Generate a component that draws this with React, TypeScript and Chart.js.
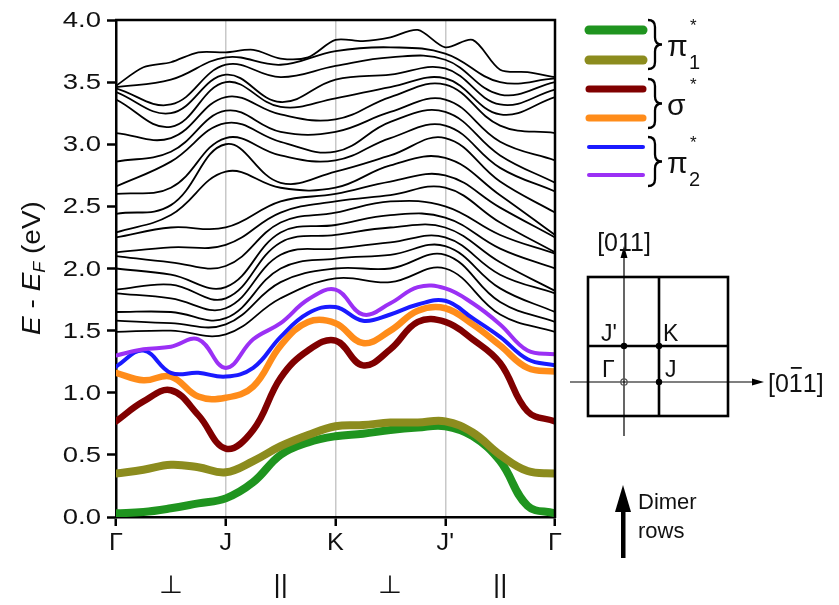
import React, { useEffect, useRef } from 'react';
import { Chart, registerables } from 'chart.js';
Chart.register(...registerables);

const FONT = 'Liberation Sans, Arial, sans-serif';

// k-path: Γ(0) J(1) K(2) J'(3) Γ(4)
const K_FINE = [0, 0.25, 0.5, 0.75, 1, 1.25, 1.5, 1.75, 2, 2.25, 2.5, 2.75, 3, 3.25, 3.5, 3.75, 4];
const K_COARSE = [0, 0.5, 1, 1.5, 2, 2.5, 3, 3.5, 4];
const K_LABELS = ['Γ', 'J', 'K', "J'", 'Γ'];
const SEGMENT_LABELS = ['⊥', '||', '⊥', '||'];
const Y_TICKS = [0, 0.5, 1, 1.5, 2, 2.5, 3, 3.5, 4];

// coloured bands (eV) on K_FINE
const PI1_LOW = [0.03, 0.04, 0.07, 0.11, 0.15, 0.28, 0.5, 0.6, 0.65, 0.67, 0.7, 0.72, 0.73, 0.65, 0.45, 0.09, 0.03];
const PI1_HIGH = [0.35, 0.38, 0.42, 0.4, 0.36, 0.45, 0.57, 0.66, 0.73, 0.74, 0.76, 0.76, 0.77, 0.68, 0.5, 0.37, 0.35];
const SIGMA_LOW = [0.77, 0.93, 1.02, 0.82, 0.55, 0.7, 1.12, 1.34, 1.42, 1.22, 1.35, 1.57, 1.57, 1.43, 1.24, 0.85, 0.77];
const SIGMA_HIGH = [1.16, 1.1, 1.13, 0.97, 0.96, 1.05, 1.38, 1.57, 1.56, 1.4, 1.5, 1.66, 1.68, 1.55, 1.38, 1.2, 1.17];
const PI2_LOW = [1.21, 1.34, 1.16, 1.16, 1.13, 1.2, 1.45, 1.64, 1.69, 1.58, 1.63, 1.71, 1.74, 1.6, 1.45, 1.27, 1.22];
const PI2_HIGH = [1.3, 1.35, 1.37, 1.43, 1.2, 1.43, 1.56, 1.75, 1.83, 1.63, 1.72, 1.85, 1.84, 1.72, 1.55, 1.34, 1.31];

// uppermost black band on K_FINE
const TOP_BAND = [3.47, 3.62, 3.66, 3.74, 3.74, 3.76, 3.69, 3.7, 3.84, 3.83, 3.86, 3.92, 3.78, 3.84, 3.6, 3.58, 3.54];

// other black bands: energies at each K_COARSE point (sorted, band index = position)
const BLACK_K00 = [1.49, 1.58, 1.65, 1.8, 1.83, 2.0, 2.1, 2.13, 2.25, 2.29, 2.44, 2.6, 2.66, 2.86, 3.09, 3.36, 3.42, 3.45, 3.46];
const BLACK_K05 = [1.5, 1.56, 1.65, 1.76, 1.87, 1.95, 2.05, 2.17, 2.33, 2.43, 2.51, 2.65, 2.86, 2.94, 3.05, 3.14, 3.25, 3.32, 3.52];
const BLACK_K10 = [1.47, 1.55, 1.6, 1.68, 1.76, 1.85, 2.02, 2.19, 2.33, 2.78, 3.0, 3.05, 3.17, 3.27, 3.38, 3.5, 3.56, 3.64, 3.7];
const BLACK_K15 = [1.76, 1.89, 2.0, 2.11, 2.21, 2.29, 2.37, 2.45, 2.54, 2.65, 2.69, 2.91, 3.02, 3.1, 3.24, 3.3, 3.34, 3.54, 3.64];
const BLACK_K20 = [1.92, 2.0, 2.08, 2.16, 2.27, 2.35, 2.45, 2.54, 2.6, 2.65, 2.78, 2.87, 2.94, 3.1, 3.2, 3.37, 3.52, 3.63, 3.75];
const BLACK_K25 = [1.89, 2.0, 2.11, 2.21, 2.33, 2.43, 2.54, 2.59, 2.7, 2.83, 2.91, 3.05, 3.18, 3.26, 3.38, 3.46, 3.56, 3.7, 3.78];
const BLACK_K30 = [2.0, 2.11, 2.18, 2.25, 2.33, 2.41, 2.5, 2.65, 2.75, 2.89, 3.05, 3.15, 3.26, 3.36, 3.48, 3.53, 3.61, 3.68, 3.73];
const BLACK_K35 = [1.63, 1.73, 1.84, 1.95, 2.05, 2.16, 2.27, 2.37, 2.49, 2.59, 2.7, 2.81, 2.91, 3.02, 3.15, 3.24, 3.32, 3.4, 3.5];
const BLACK_K40 = [1.49, 1.57, 1.65, 1.8, 1.82, 2.0, 2.12, 2.13, 2.25, 2.27, 2.45, 2.62, 2.69, 2.87, 3.09, 3.38, 3.44, 3.5, 3.53];

const BLACK_COLUMNS = [BLACK_K00, BLACK_K05, BLACK_K10, BLACK_K15, BLACK_K20, BLACK_K25, BLACK_K30, BLACK_K35, BLACK_K40];

const COLORED = [
  { data: PI2_HIGH, color: '#9b30f5', width: 4 },
  { data: PI2_LOW, color: '#1a1aff', width: 4 },
  { data: SIGMA_HIGH, color: '#ff8c1a', width: 6.5 },
  { data: SIGMA_LOW, color: '#800000', width: 6.5 },
  { data: PI1_HIGH, color: '#8c8c1e', width: 8 },
  { data: PI1_LOW, color: '#1f941f', width: 8 },
];

function drawText(ctx: CanvasRenderingContext2D, t: string, x: number, y: number, font: string, align: CanvasTextAlign = 'left', base: CanvasTextBaseline = 'alphabetic', sx = 1) {
  ctx.save();
  ctx.translate(x, y);
  ctx.scale(sx, 1);
  ctx.font = font;
  ctx.textAlign = align;
  ctx.textBaseline = base;
  ctx.fillText(t, 0, 0);
  ctx.restore();
}

function brace(ctx: CanvasRenderingContext2D, x: number, y1: number, y2: number, w: number) {
  const m = (y1 + y2) / 2;
  const h = w / 2;
  ctx.beginPath();
  ctx.moveTo(x, y1);
  ctx.quadraticCurveTo(x + h, y1, x + h, y1 + h);
  ctx.lineTo(x + h, m - h);
  ctx.quadraticCurveTo(x + h, m, x + w, m);
  ctx.quadraticCurveTo(x + h, m, x + h, m + h);
  ctx.lineTo(x + h, y2 - h);
  ctx.quadraticCurveTo(x + h, y2, x, y2);
  ctx.stroke();
}

const decorPlugin = {
  id: 'decor',
  afterDraw(chart: any) {
    const ctx: CanvasRenderingContext2D = chart.ctx;
    const { left, right, top, bottom } = chart.chartArea;
    const xs = chart.scales.x;
    const ys = chart.scales.y;
    ctx.save();
    ctx.fillStyle = '#111';
    ctx.strokeStyle = '#000';
    // frame top & right
    ctx.lineWidth = 2.5;
    ctx.beginPath();
    ctx.moveTo(left - 1, top);
    ctx.lineTo(right, top);
    ctx.lineTo(right, bottom + 1);
    ctx.stroke();

    // y tick labels
    Y_TICKS.forEach((v) => {
      drawText(ctx, v.toFixed(1), left - 15, ys.getPixelForValue(v) + 1, `22px ${FONT}`, 'right', 'middle', 1.25);
    });
    // x tick labels
    K_LABELS.forEach((l, i) => {
      drawText(ctx, l, xs.getPixelForValue(i), bottom + 33, `24px ${FONT}`, 'center', 'alphabetic', 1.05);
    });
    // segment labels
    SEGMENT_LABELS.forEach((l, i) => {
      drawText(ctx, l, xs.getPixelForValue(i + 0.5), bottom + 76, `25px ${FONT}`, 'center', 'alphabetic', 1.1);
    });

    // y axis title: E - E_F (eV)
    ctx.save();
    ctx.translate(40, 268);
    ctx.rotate(-Math.PI / 2);
    ctx.scale(1.12, 1);
    ctx.textBaseline = 'alphabetic';
    ctx.textAlign = 'left';
    const parts: [string, string, number][] = [
      ['E', `italic 25px ${FONT}`, 0],
      [' - ', `25px ${FONT}`, 0],
      ['E', `italic 25px ${FONT}`, 0],
      ['F', `italic 16px ${FONT}`, 5],
      [' (eV)', `25px ${FONT}`, 0],
    ];
    let total = 0;
    parts.forEach(([t, f]) => { ctx.font = f; total += ctx.measureText(t).width; });
    let cx = -total / 2;
    parts.forEach(([t, f, dy]) => {
      ctx.font = f;
      ctx.fillText(t, cx, dy);
      cx += ctx.measureText(t).width;
    });
    ctx.restore();

    // legend
    ctx.lineCap = 'round';
    const legend = [
      { c: '#1f941f', w: 9, y: 30 },
      { c: '#8c8c1e', w: 9, y: 60 },
      { c: '#800000', w: 7, y: 89 },
      { c: '#ff8c1a', w: 7, y: 118 },
      { c: '#1a1aff', w: 4, y: 147 },
      { c: '#9b30f5', w: 4, y: 175 },
    ];
    legend.forEach((l) => {
      ctx.strokeStyle = l.c;
      ctx.lineWidth = l.w;
      ctx.beginPath();
      ctx.moveTo(589, l.y);
      ctx.lineTo(643, l.y);
      ctx.stroke();
    });
    ctx.lineCap = 'butt';
    ctx.strokeStyle = '#000';
    ctx.lineWidth = 2.3;
    const groups = [
      { y1: 20, y2: 69, sym: 'π', sub: '1' },
      { y1: 79, y2: 128, sym: 'σ', sub: '' },
      { y1: 137, y2: 186, sym: 'π', sub: '2' },
    ];
    groups.forEach((g) => {
      brace(ctx, 648, g.y1, g.y2, 14);
      const m = (g.y1 + g.y2) / 2;
      drawText(ctx, g.sym, 667, m + 11, `30px ${FONT}`, 'left', 'alphabetic');
      if (g.sub) drawText(ctx, g.sub, 689, m + 24, `20px ${FONT}`, 'left', 'alphabetic');
      drawText(ctx, '*', 690, m - 14, `17px ${FONT}`, 'left', 'alphabetic');
    });

    // Brillouin-zone sketch
    ctx.strokeStyle = '#000';
    ctx.fillStyle = '#000';
    ctx.lineWidth = 1.2;
    ctx.beginPath();
    ctx.moveTo(624, 436);
    ctx.lineTo(624, 252);
    ctx.moveTo(570, 382);
    ctx.lineTo(756, 382);
    ctx.stroke();
    ctx.beginPath();
    ctx.moveTo(624, 246);
    ctx.lineTo(620.5, 258);
    ctx.lineTo(627.5, 258);
    ctx.closePath();
    ctx.fill();
    ctx.beginPath();
    ctx.moveTo(764, 382);
    ctx.lineTo(752, 378.5);
    ctx.lineTo(752, 385.5);
    ctx.closePath();
    ctx.fill();

    ctx.lineWidth = 2.6;
    ctx.strokeRect(588, 277, 140, 139);
    ctx.beginPath();
    ctx.moveTo(659, 277);
    ctx.lineTo(659, 416);
    ctx.moveTo(588, 346);
    ctx.lineTo(728, 346);
    ctx.stroke();

    [[624, 346], [659, 346], [659, 382]].forEach(([x, y]) => {
      ctx.beginPath();
      ctx.arc(x, y, 3.2, 0, Math.PI * 2);
      ctx.fill();
    });
    ctx.lineWidth = 1.3;
    ctx.strokeStyle = '#555';
    ctx.beginPath();
    ctx.arc(624, 382, 3.2, 0, Math.PI * 2);
    ctx.stroke();

    ctx.fillStyle = '#111';
    drawText(ctx, "J'", 601, 341, `23px ${FONT}`);
    drawText(ctx, 'K', 663, 341, `23px ${FONT}`);
    drawText(ctx, 'Γ', 602, 377, `23px ${FONT}`);
    drawText(ctx, 'J', 665, 377, `23px ${FONT}`);
    drawText(ctx, '[011]', 624, 251, `25px ${FONT}`, 'center');
    // [0 1̄ 1]
    ctx.save();
    ctx.translate(768, 392);
    ctx.font = `25px ${FONT}`;
    ctx.textAlign = 'left';
    ctx.textBaseline = 'alphabetic';
    const p1 = '[0';
    const p2 = '1';
    const p3 = '1]';
    let bx = 0;
    ctx.fillText(p1, bx, 0);
    bx += ctx.measureText(p1).width;
    const w1 = ctx.measureText(p2).width;
    ctx.fillText(p2, bx, 0);
    ctx.fillRect(bx + 2, -25, w1 - 3, 1.8);
    bx += w1;
    ctx.fillText(p3, bx, 0);
    ctx.restore();

    // dimer rows arrow
    ctx.fillStyle = '#000';
    ctx.fillRect(621, 505, 4.5, 53);
    ctx.beginPath();
    ctx.moveTo(623, 485);
    ctx.lineTo(615, 512);
    ctx.lineTo(631, 512);
    ctx.closePath();
    ctx.fill();
    ctx.fillStyle = '#111';
    drawText(ctx, 'Dimer', 638, 509, `22px ${FONT}`);
    drawText(ctx, 'rows', 638, 538, `22px ${FONT}`);
    ctx.restore();
  },
};

export default function App() {
  const ref = useRef<HTMLCanvasElement | null>(null);
  useEffect(() => {
    if (!ref.current) return;
    const coloredSets = COLORED.map((c) => ({
      data: K_FINE.map((k, i) => ({ x: k, y: c.data[i] })),
      borderColor: c.color,
      borderWidth: c.width,
      tension: 0.4,
      pointRadius: 0,
      borderCapStyle: 'round' as const,
      borderJoinStyle: 'round' as const,
    }));
    const blackSets = BLACK_K00.map((_, b) => ({
      data: K_COARSE.map((k, i) => ({ x: k, y: BLACK_COLUMNS[i][b] })),
      borderColor: '#000',
      borderWidth: 1.8,
      tension: 0.4,
      pointRadius: 0,
    }));
    const topSet = {
      data: K_FINE.map((k, i) => ({ x: k, y: TOP_BAND[i] })),
      borderColor: '#000',
      borderWidth: 1.8,
      tension: 0.3,
      pointRadius: 0,
    };
    const chart = new Chart(ref.current, {
      type: 'line',
      data: { datasets: [...coloredSets, ...blackSets, topSet] as any },
      options: {
        responsive: false,
        animation: false,
        devicePixelRatio: 1,
        layout: { padding: { top: 20, right: 284, left: 0, bottom: 0 } },
        plugins: { legend: { display: false }, tooltip: { enabled: false } },
        scales: {
          x: {
            type: 'linear',
            min: 0,
            max: 4,
            ticks: { stepSize: 1, display: false },
            grid: {
              color: (c: any) => (c.tick && (c.tick.value === 0 || c.tick.value === 4) ? 'rgba(0,0,0,0)' : '#c8c8c8'),
              lineWidth: 1.5,
              drawTicks: true,
              tickLength: 9,
              tickColor: '#000',
              tickWidth: 2.5,
            } as any,
            border: { display: true, color: '#000', width: 2.5 },
            afterFit: (s: any) => { s.height = 88; },
          },
          y: {
            type: 'linear',
            min: 0,
            max: 4,
            ticks: { stepSize: 0.5, display: false },
            grid: {
              drawOnChartArea: false,
              drawTicks: true,
              tickLength: 9,
              tickColor: '#000',
              tickWidth: 2.5,
            } as any,
            border: { display: true, color: '#000', width: 2.5 },
            afterFit: (s: any) => { s.width = 116; },
          },
        },
      },
      plugins: [decorPlugin],
    });
    return () => chart.destroy();
  }, []);
  return (
    <div style={{ position: 'fixed', left: 0, top: 0, width: 839, height: 605, background: '#fff' }}>
      <canvas ref={ref} width={839} height={605} style={{ width: 839, height: 605, display: 'block' }} />
    </div>
  );
}
